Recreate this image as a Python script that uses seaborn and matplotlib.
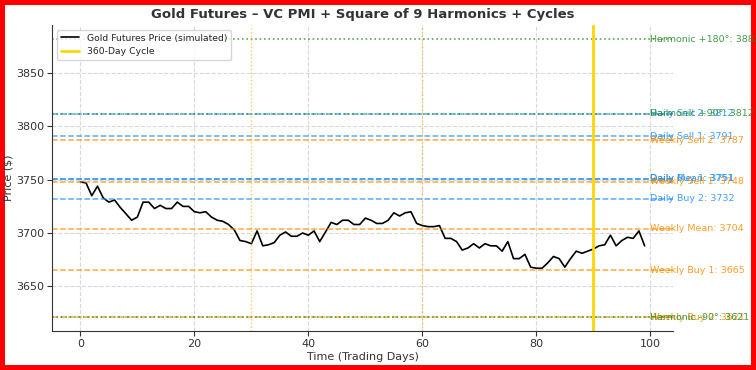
import numpy as np
import pandas as pd
import matplotlib
matplotlib.use("Agg")
import matplotlib.pyplot as plt
import seaborn as sns

# simulated price (days 0..99)
price = [3748, 3747, 3735, 3744, 3733, 3729, 3731, 3724, 3718, 3712,
         3715, 3729, 3729, 3723, 3726, 3723, 3723, 3729, 3725, 3725,
         3720, 3719, 3720, 3715, 3712, 3711, 3708, 3703, 3693, 3692,
         3690, 3702, 3688, 3689, 3691, 3698, 3701, 3697, 3697, 3700,
         3698, 3702, 3692, 3701, 3710, 3708, 3712, 3712, 3708, 3708,
         3714, 3712, 3709, 3709, 3712, 3719, 3716, 3719, 3720, 3709,
         3707, 3706, 3706, 3707, 3695, 3695, 3692, 3684, 3686, 3690,
         3686, 3690, 3688, 3688, 3683, 3692, 3676, 3676, 3680, 3668,
         3667, 3667, 3672, 3678, 3676, 3668, 3676, 3683, 3681, 3683,
         3685, 3688, 3689, 3698, 3688, 3693, 3696, 3695, 3702, 3688]
days = list(range(len(price)))

daily_names = ["Daily Sell 2", "Daily Sell 1", "Daily Mean", "Daily Buy 1", "Daily Buy 2"]
daily_levels = [3812, 3791, 3751, 3751, 3732]
weekly_names = ["Weekly Sell 2", "Weekly Sell 1", "Weekly Mean", "Weekly Buy 1", "Weekly Buy 2"]
weekly_levels = [3787, 3748, 3704, 3665, 3621]
harmonic_names = ["Harmonic +180°", "Harmonic +90°", "Harmonic -90°"]
harmonic_levels = [3882, 3812, 3621]
cycle_days = [30, 60]
big_cycle_day = 90

df = pd.DataFrame({"day": days, "price": price})

sns.set_style("ticks", {"axes.grid": True, "grid.linestyle": "--",
                        "grid.color": "#d9d9d9", "axes.edgecolor": "#333333"})
plt.rcParams["font.family"] = ["DejaVu Sans"]

fig = plt.figure(figsize=(7.56, 3.7), dpi=100)
fig.patch.set_edgecolor("red")
fig.patch.set_linewidth(6)
ax = fig.add_axes([0.069, 0.105, 0.821, 0.827])

sns.lineplot(data=df, x="day", y="price", ax=ax, color="black", linewidth=1.2,
             label="Gold Futures Price (simulated)")

groups = [
    (daily_names, daily_levels, "#1e90ff", "--", 1.1),
    (weekly_names, weekly_levels, "#ff8c00", "--", 1.1),
    (harmonic_names, harmonic_levels, "#228b22", ":", 1.2),
]
for names, levels, col, ls, lw in groups:
    for name, lvl in zip(names, levels):
        ax.axhline(lvl, color=col, linestyle=ls, linewidth=lw, alpha=0.75)
        ax.text(100, lvl, f"{name}: {lvl}", color=col, fontsize=6.8,
                va="center", ha="left", alpha=0.85, clip_on=False)

for d in cycle_days:
    ax.axvline(d, color="orange", linestyle=":", linewidth=1, alpha=0.6)
ax.axvline(big_cycle_day, color="gold", linestyle="-", linewidth=2,
           label="360-Day Cycle")

ax.set_xlim(-4.95, 103.95)
ax.set_title("Gold Futures – VC PMI + Square of 9 Harmonics + Cycles",
             fontsize=9.5, fontweight="bold", color="#333333", pad=5)
ax.set_xlabel("Time (Trading Days)", fontsize=8, color="#333333", labelpad=2)
ax.set_ylabel("Price ($)", fontsize=8, color="#333333", labelpad=2)
ax.tick_params(labelsize=8, colors="#333333", length=3.5, pad=2)
ax.legend(loc="upper left", fontsize=6.7, frameon=True)
sns.despine(ax=ax)

fig.savefig("out.png", dpi=100)
